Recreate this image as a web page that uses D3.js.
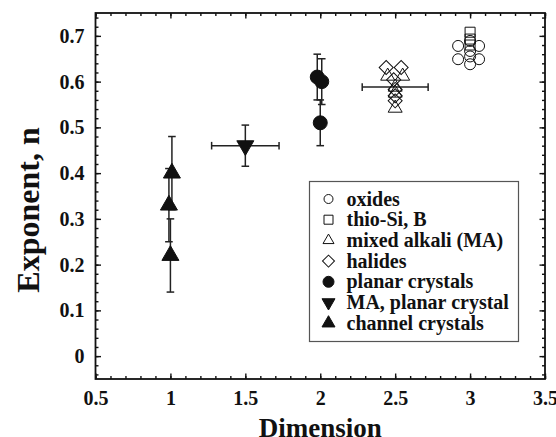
<!DOCTYPE html>
<html>
<head>
<meta charset="utf-8">
<script src="https://cdn.jsdelivr.net/npm/d3@7"></script>
<style>
  html, body { margin: 0; padding: 0; background: #fff; }
  svg { display: block; }
  text { font-family: "Liberation Serif", "Times New Roman", serif; font-weight: bold; fill: #111; }
</style>
</head>
<body>
<svg id="chart" width="556" height="437"></svg>
<script>
// Exponent n versus conduction dimension for several glass and crystal families

// oxides (open circles)
const oxidesX = [2.92, 2.92, 3.06, 3.06, 3.0, 3.0, 3.0, 3.0];
const oxidesY = [0.678, 0.649, 0.678, 0.649, 0.689, 0.667, 0.655, 0.638];

// thio-Si, B (open squares)
const thioX = [3.0, 3.0, 3.0];
const thioY = [0.708, 0.693, 0.68];

// mixed alkali (open triangles); one carries a horizontal error bar
const maX = [2.45, 2.55, 2.5, 2.5, 2.5];
const maY = [0.612, 0.612, 0.588, 0.575, 0.542];
const maXErr = [0, 0, 0.22, 0, 0];

// halides (open diamonds)
const halX = [2.44, 2.54, 2.49, 2.5, 2.5, 2.5];
const halY = [0.631, 0.631, 0.604, 0.583, 0.569, 0.558];

// planar crystals (filled circles) with vertical error bars
const planarX = [1.98, 2.01, 2.0];
const planarY = [0.61, 0.60, 0.51];
const planarYErr = [0.05, 0.05, 0.05];

// MA, planar crystal (filled down triangle) with both error bars
const maPlanarX = [1.5];
const maPlanarY = [0.46];
const maPlanarXErr = [0.225];
const maPlanarYErr = [0.045];

// channel crystals (filled up triangles) with vertical error bars
const channelX = [1.01, 0.99, 1.0];
const channelY = [0.40, 0.33, 0.22];
const channelYErr = [0.08, 0.08, 0.08];

// axis ticks
const xTicks = [0.5, 1, 1.5, 2, 2.5, 3, 3.5];
const yTicks = [0, 0.1, 0.2, 0.3, 0.4, 0.5, 0.6, 0.7];

const legendLabels = ["oxides", "thio-Si, B", "mixed alkali (MA)", "halides",
  "planar crystals", "MA, planar crystal", "channel crystals"];

const svg = d3.select("#chart");
const plotLeft = 95.5, plotRight = 545, plotTop = 13, plotBottom = 379;

const x = d3.scaleLinear().domain([0.5, 3.5]).range([plotLeft, plotRight]);
const y = d3.scaleLinear().domain([-0.05, 0.75]).range([plotBottom, plotTop]);

const xMinor = d3.range(0.5, 3.5001, 0.1).map(v => +v.toFixed(2));
const yMinor = d3.range(-0.04, 0.7401, 0.02).map(v => +v.toFixed(2));

const fmtX = d => String(+d.toFixed(1));
const fmtY = d => d === 0 ? "0" : d.toFixed(1);

function styleAxis(g) {
  g.select(".domain").remove();
  g.selectAll(".tick line").attr("stroke", "#111").attr("stroke-width", 1.4);
}

// minor ticks on all four sides
svg.append("g").attr("transform", `translate(0,${plotBottom})`)
  .call(d3.axisBottom(x).tickValues(xMinor).tickSize(-3).tickFormat(""))
  .call(styleAxis);
svg.append("g").attr("transform", `translate(0,${plotTop})`)
  .call(d3.axisTop(x).tickValues(xMinor).tickSize(-3).tickFormat(""))
  .call(styleAxis);
svg.append("g").attr("transform", `translate(${plotLeft},0)`)
  .call(d3.axisLeft(y).tickValues(yMinor).tickSize(-3).tickFormat(""))
  .call(styleAxis);
svg.append("g").attr("transform", `translate(${plotRight},0)`)
  .call(d3.axisRight(y).tickValues(yMinor).tickSize(-3).tickFormat(""))
  .call(styleAxis);

// major ticks, labelled on bottom and left
const xAxis = svg.append("g").attr("transform", `translate(0,${plotBottom})`)
  .call(d3.axisBottom(x).tickValues(xTicks).tickSize(-5.5).tickPadding(12).tickFormat(fmtX))
  .call(styleAxis);
xAxis.selectAll("text").attr("font-size", 20).attr("fill", "#111")
  .style("font-family", "'Liberation Serif', serif").style("font-weight", "bold");
svg.append("g").attr("transform", `translate(0,${plotTop})`)
  .call(d3.axisTop(x).tickValues(xTicks).tickSize(-5.5).tickFormat(""))
  .call(styleAxis);
const yAxis = svg.append("g").attr("transform", `translate(${plotLeft},0)`)
  .call(d3.axisLeft(y).tickValues(yTicks).tickSize(-5.5).tickPadding(11).tickFormat(fmtY))
  .call(styleAxis);
yAxis.selectAll("text").attr("font-size", 20).attr("fill", "#111")
  .style("font-family", "'Liberation Serif', serif").style("font-weight", "bold");
svg.append("g").attr("transform", `translate(${plotRight},0)`)
  .call(d3.axisRight(y).tickValues(yTicks).tickSize(-5.5).tickFormat(""))
  .call(styleAxis);

// frame
svg.append("rect")
  .attr("x", plotLeft).attr("y", plotTop)
  .attr("width", plotRight - plotLeft).attr("height", plotBottom - plotTop)
  .attr("fill", "none").attr("stroke", "#111").attr("stroke-width", 1.8);

// axis titles
svg.append("text")
  .attr("x", (plotLeft + plotRight) / 2).attr("y", 437)
  .attr("text-anchor", "middle").attr("font-size", 27)
  .text("Dimension");
svg.append("text")
  .attr("transform", `translate(39,210) rotate(-90)`)
  .attr("text-anchor", "middle").attr("font-size", 32)
  .text("Exponent, n");

// symbol helpers
const sym = {
  circle: r => d3.symbol(d3.symbolCircle, Math.PI * r * r)(),
  square: s => d3.symbol(d3.symbolSquare, s * s)(),
  diamond: w => d3.symbol(d3.symbolSquare, (w / Math.SQRT2) ** 2)(),
  triangle: s => d3.symbol(d3.symbolTriangle, Math.sqrt(3) / 4 * s * s)()
};

const ink = "#111";
const cap = 3.8;

function errorBars(g, xs, ys, xe, ye) {
  xs.forEach((xv, i) => {
    const yv = ys[i];
    if (ye && ye[i]) {
      const y0 = y(yv - ye[i]), y1 = y(yv + ye[i]), px = x(xv);
      g.append("line").attr("x1", px).attr("x2", px).attr("y1", y0).attr("y2", y1);
      g.append("line").attr("x1", px - cap).attr("x2", px + cap).attr("y1", y0).attr("y2", y0);
      g.append("line").attr("x1", px - cap).attr("x2", px + cap).attr("y1", y1).attr("y2", y1);
    }
    if (xe && xe[i]) {
      const x0 = x(xv - xe[i]), x1 = x(xv + xe[i]), py = y(yv);
      g.append("line").attr("x1", x0).attr("x2", x1).attr("y1", py).attr("y2", py);
      g.append("line").attr("x1", x0).attr("x2", x0).attr("y1", py - cap).attr("y2", py + cap);
      g.append("line").attr("x1", x1).attr("x2", x1).attr("y1", py - cap).attr("y2", py + cap);
    }
  });
}

function markers(xs, ys, path, filled, rotate) {
  svg.append("g").selectAll("path").data(xs).join("path")
    .attr("d", path)
    .attr("transform", (d, i) => `translate(${x(d)},${y(ys[i])})${rotate ? ` rotate(${rotate})` : ""}`)
    .attr("fill", filled ? ink : "#fff")
    .attr("fill-opacity", filled ? 1 : 0)
    .attr("stroke", ink).attr("stroke-width", 1);
}

const eb = svg.append("g").attr("stroke", "#222").attr("stroke-width", 1.5);
errorBars(eb, channelX, channelY, null, channelYErr);
errorBars(eb, maPlanarX, maPlanarY, maPlanarXErr, maPlanarYErr);
errorBars(eb, planarX, planarY, null, planarYErr);
errorBars(eb, maX, maY, maXErr, null);

markers(oxidesX, oxidesY, sym.circle(5.5), false);
markers(thioX, thioY, sym.square(10), false);
markers(maX, maY, sym.triangle(14), false);
markers(halX, halY, sym.diamond(14), false, 45);
markers(planarX, planarY, sym.circle(7), true);
markers(maPlanarX, maPlanarY, sym.triangle(17), true, 180);
markers(channelX, channelY, sym.triangle(17), true);

// legend
const lg = svg.append("g");
lg.append("rect")
  .attr("x", 309.5).attr("y", 181.5).attr("width", 209).attr("height", 160)
  .attr("fill", "#fff").attr("stroke", "#555").attr("stroke-width", 1.2);

const legendSymbols = [
  { d: sym.circle(4.5), fill: false },
  { d: sym.square(9), fill: false },
  { d: sym.triangle(11), fill: false },
  { d: sym.diamond(12), fill: false, rot: 45 },
  { d: sym.circle(5.5), fill: true },
  { d: sym.triangle(13), fill: true, rot: 180 },
  { d: sym.triangle(13), fill: true }
];

legendLabels.forEach((label, i) => {
  const cy = 199 + i * 20.7;
  const s = legendSymbols[i];
  lg.append("path")
    .attr("d", s.d)
    .attr("transform", `translate(328.5,${cy})${s.rot ? ` rotate(${s.rot})` : ""}`)
    .attr("fill", s.fill ? ink : "none")
    .attr("stroke", ink).attr("stroke-width", 1);
  lg.append("text")
    .attr("x", 346.5).attr("y", cy + 6.5)
    .attr("font-size", 20)
    .text(label);
});
</script>
</body>
</html>
